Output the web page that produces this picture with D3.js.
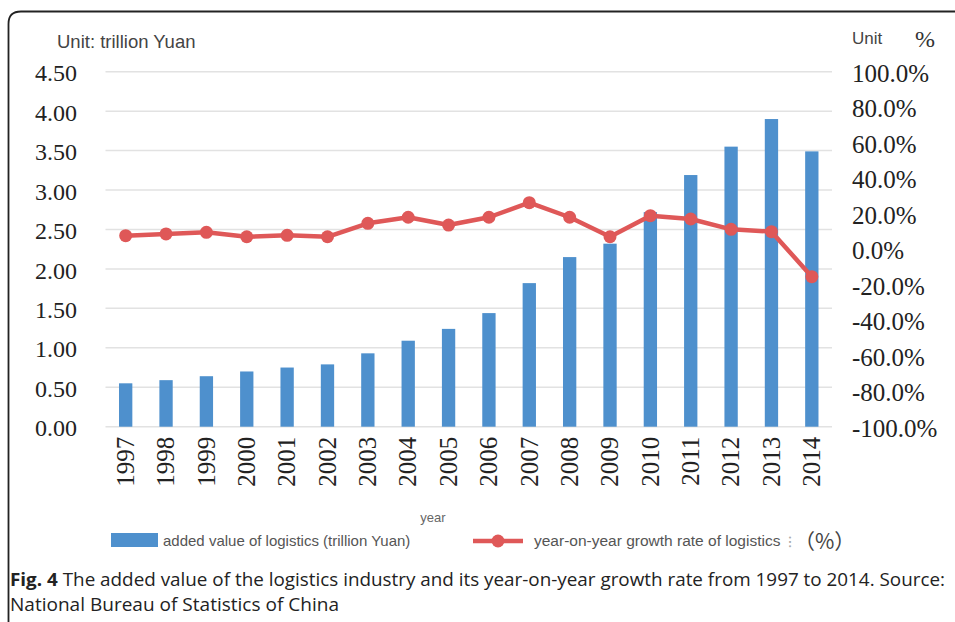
<!DOCTYPE html>
<html>
<head>
<meta charset="utf-8">
<script src="https://cdn.jsdelivr.net/npm/d3@7"></script>
<style>
  html, body { margin: 0; padding: 0; background: #fff; }
  svg { display: block; }
</style>
</head>
<body>
<svg id="chart" width="955" height="622"></svg>
<script>
const years = ["1997","1998","1999","2000","2001","2002","2003","2004","2005","2006","2007","2008","2009","2010","2011","2012","2013","2014"];
const addedValue = [0.55,0.59,0.64,0.70,0.75,0.79,0.93,1.09,1.24,1.44,1.82,2.15,2.32,2.72,3.19,3.55,3.90,3.49];
const growthRate = [7.6,8.6,9.5,7.0,7.8,7.0,14.6,18.0,13.6,18.0,26.2,18.0,7.0,18.9,17.0,11.2,9.9,-15.5];
const leftTicks = [0,0.5,1.0,1.5,2.0,2.5,3.0,3.5,4.0,4.5];
const rightTicks = [-100,-80,-60,-40,-20,0,20,40,60,80,100];

const svg = d3.select("#chart");
const W = 955, H = 622;
const plot = { left: 105.5, right: 832, top: 71.7, bottom: 426.7 };

const barColor = "#4e90cd";
const lineColor = "#df5858";
const serif = "'Liberation Serif', 'Times New Roman', serif";
const sans = "'Liberation Sans', Arial, sans-serif";

// frame
svg.append("path")
  .attr("d", `M8.5,${H} V24 Q8.5,11.5 21,11.5 H${W}`)
  .attr("fill", "none").attr("stroke", "#222").attr("stroke-width", 1.8);

const x = d3.scaleBand().domain(years).range([plot.left, plot.right]).paddingInner(0.67).paddingOuter(0.335);
const yL = d3.scaleLinear().domain([0, 4.5]).range([plot.bottom, plot.top]);
const yR = d3.scaleLinear().domain([-100, 100]).range([plot.bottom, plot.top]);

// gridlines
svg.append("g").selectAll("line").data(leftTicks).join("line")
  .attr("x1", plot.left).attr("x2", plot.right)
  .attr("y1", d => yL(d)).attr("y2", d => yL(d))
  .attr("stroke", "#e2e2e2").attr("stroke-width", 1.5);

// left axis
const leftAxis = d3.axisLeft(yL).tickValues(leftTicks).tickFormat(d => d.toFixed(2)).tickSize(0).tickPadding(0);
const gL = svg.append("g").attr("transform", "translate(77,1.5)").call(leftAxis);
gL.select(".domain").remove();
gL.selectAll("text").attr("font-family", serif).attr("font-size", 24).attr("fill", "#222");

// right axis
const rightAxis = d3.axisRight(yR).tickValues(rightTicks).tickFormat(d => d.toFixed(1) + "%").tickSize(0).tickPadding(0);
const gR = svg.append("g").attr("transform", "translate(852,1.5)").call(rightAxis);
gR.select(".domain").remove();
gR.selectAll("text").attr("font-family", serif).attr("font-size", 25).attr("fill", "#222");

// bars
svg.append("g").selectAll("rect").data(years).join("rect")
  .attr("x", d => x(d)).attr("width", x.bandwidth())
  .attr("y", (d, i) => yL(addedValue[i]))
  .attr("height", (d, i) => yL(0) - yL(addedValue[i]))
  .attr("fill", barColor);

// x axis labels
const xAxis = d3.axisBottom(x).tickSize(0).tickPadding(0);
const gX = svg.append("g").attr("transform", `translate(0,${plot.bottom})`).call(xAxis);
gX.select(".domain").remove();
gX.selectAll("text")
  .attr("font-family", serif).attr("font-size", 25).attr("fill", "#222")
  .attr("text-anchor", "end")
  .attr("transform", "rotate(-90)")
  .attr("x", -10).attr("y", 0).attr("dy", "0.33em");

// line
const cx = d => x(d) + x.bandwidth() / 2;
svg.append("path")
  .datum(years)
  .attr("d", d3.line().x(cx).y((d, i) => yR(growthRate[i])))
  .attr("fill", "none").attr("stroke", lineColor).attr("stroke-width", 4.5).attr("stroke-linejoin", "round");
svg.append("g").selectAll("circle").data(years).join("circle")
  .attr("cx", cx).attr("cy", (d, i) => yR(growthRate[i]))
  .attr("r", 6.5).attr("fill", lineColor);

// unit labels
svg.append("text").attr("x", 57).attr("y", 48).attr("font-family", sans).attr("font-size", 18.5)
  .attr("fill", "#444").text("Unit: trillion Yuan");
svg.append("text").attr("x", 852).attr("y", 44).attr("font-family", sans).attr("font-size", 17)
  .attr("fill", "#444").text("Unit");
svg.append("text").attr("x", 915).attr("y", 47).attr("font-family", serif).attr("font-size", 24)
  .attr("fill", "#333").text("%");

// axis title
svg.append("text").attr("x", 433).attr("y", 522).attr("text-anchor", "middle")
  .attr("font-family", sans).attr("font-size", 13).attr("fill", "#666").text("year");

// legend
svg.append("rect").attr("x", 111).attr("y", 533).attr("width", 47).attr("height", 14).attr("fill", barColor);
svg.append("text").attr("x", 163).attr("y", 546).attr("font-family", sans).attr("font-size", 15)
  .attr("fill", "#555").text("added value of logistics (trillion Yuan)");
svg.append("line").attr("x1", 473).attr("x2", 523).attr("y1", 541).attr("y2", 541)
  .attr("stroke", lineColor).attr("stroke-width", 4.5);
svg.append("circle").attr("cx", 498).attr("cy", 541).attr("r", 6.5).attr("fill", lineColor);
svg.append("text").attr("x", 534).attr("y", 546).attr("font-family", sans).attr("font-size", 15.5)
  .attr("fill", "#555").text("year-on-year growth rate of logistics");
svg.append("text").attr("x", 788).attr("y", 547).attr("font-family", sans).attr("font-size", 15)
  .attr("fill", "#aaa").text("⁝");
svg.append("text").attr("x", 794).attr("y", 549).attr("font-family", "'Noto Sans CJK SC', sans-serif").attr("font-size", 21)
  .attr("fill", "#444").text("（%）");

// caption
const cap1 = svg.append("text").attr("x", 10).attr("y", 586).attr("font-family", "'Open Sans', sans-serif")
  .attr("font-size", 18.5).attr("fill", "#222")
  .attr("textLength", 935).attr("lengthAdjust", "spacingAndGlyphs");
cap1.append("tspan").attr("font-weight", "bold").text("Fig. 4");
cap1.append("tspan").text(" The added value of the logistics industry and its year-on-year growth rate from 1997 to 2014. Source:");
svg.append("text").attr("x", 10).attr("y", 611).attr("font-family", "'Open Sans', sans-serif")
  .attr("font-size", 18.5).attr("fill", "#222")
  .attr("textLength", 329).attr("lengthAdjust", "spacingAndGlyphs")
  .text("National Bureau of Statistics of China");
</script>
</body>
</html>
